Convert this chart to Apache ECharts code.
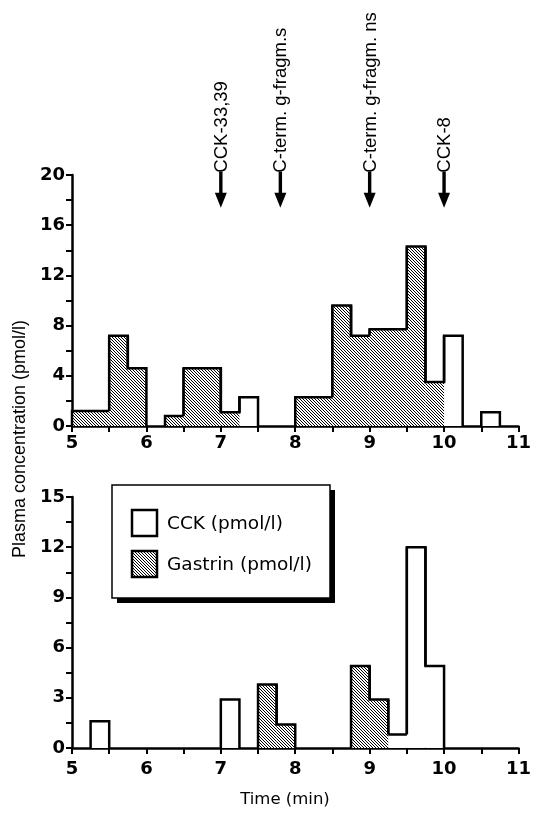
<!DOCTYPE html>
<html>
<head>
<meta charset="utf-8">
<script src="https://cdn.jsdelivr.net/npm/echarts@6/dist/echarts.min.js"></script>
<style>
html,body{margin:0;padding:0;background:#fff;}
#chart{width:534px;height:814px;}
</style>
</head>
<body>
<div id="chart"></div>
<script>
// ---- data (time in min, values in pmol/l; 0.25-min sampling bins) ----
const xTickLabels = [5, 6, 7, 8, 9, 10, 11];
const topYTickLabels = [0, 4, 8, 12, 16, 20];
const botYTickLabels = [0, 3, 6, 9, 12, 15];

const topCckFrom = [7.25, 10.0, 10.5];
const topCckTo   = [7.5, 10.25, 10.75];
const topCckVal  = [2.3, 7.2, 1.1];

const topGasFrom = [5.0, 5.5, 5.75, 6.25, 6.5, 7.0, 8.0, 8.5, 8.75, 9.0, 9.5, 9.75];
const topGasTo   = [5.5, 5.75, 6.0, 6.5, 7.0, 7.25, 8.5, 8.75, 9.0, 9.5, 9.75, 10.0];
const topGasVal  = [1.2, 7.2, 4.6, 0.8, 4.6, 1.1, 2.3, 9.6, 7.2, 7.7, 14.3, 3.5];

const botCckFrom = [5.25, 7.0, 9.25, 9.5, 9.75];
const botCckTo   = [5.5, 7.25, 9.5, 9.75, 10.0];
const botCckVal  = [1.6, 2.9, 0.8, 12.0, 4.9];

const botGasFrom = [7.5, 7.75, 8.75, 9.0];
const botGasTo   = [7.75, 8.0, 9.0, 9.25];
const botGasVal  = [3.8, 1.4, 4.9, 2.9];

const arrowTimes  = [7.0, 7.8, 9.0, 10.0];
const arrowLabels = ['CCK-33,39', 'C-term. g-fragm.s', 'C-term. g-fragm. ns', 'CCK-8'];

const legendLabels = ['CCK (pmol/l)', 'Gastrin (pmol/l)'];
const yTitle = 'Plasma concentration (pmol/l)';
const xTitle = 'Time (min)';

// ---- helpers ----
function makeHatch() {
  const c = document.createElement('canvas');
  c.width = 3; c.height = 3;
  const g = c.getContext('2d');
  g.fillStyle = '#ffffff'; g.fillRect(0, 0, 3, 3);
  g.fillStyle = '#000000';
  for (let i = 0; i < 3; i++) g.fillRect(i, i, 1, 1);
  return c;
}
const hatch = { image: makeHatch(), repeat: 'repeat' };

function buildItems(from, to, val, allFrom, allTo, allVal) {
  return from.map((f, i) => {
    let ln = 0, rn = 0;
    for (let k = 0; k < allFrom.length; k++) {
      if (Math.abs(allTo[k] - f) < 1e-9) ln = allVal[k];
      if (Math.abs(allFrom[k] - to[i]) < 1e-9) rn = allVal[k];
    }
    return [f, to[i], val[i], ln, rn];
  });
}
const topAllFrom = topCckFrom.concat(topGasFrom), topAllTo = topCckTo.concat(topGasTo), topAllVal = topCckVal.concat(topGasVal);
const botAllFrom = botCckFrom.concat(botGasFrom), botAllTo = botCckTo.concat(botGasTo), botAllVal = botCckVal.concat(botGasVal);

function histSeries(name, gi, items, fill) {
  return {
    name: name, type: 'custom', xAxisIndex: gi, yAxisIndex: gi,
    data: items, encode: { x: [0, 1], y: 2 }, z: 3,
    renderItem: function (params, api) {
      const p0 = api.coord([api.value(0), 0]);
      const pT = api.coord([api.value(1), api.value(2)]);
      const pl = api.coord([api.value(0), api.value(3)]);
      const pr = api.coord([api.value(1), api.value(4)]);
      return {
        type: 'group',
        children: [
          { type: 'rect', shape: { x: p0[0], y: pT[1], width: pT[0] - p0[0], height: p0[1] - pT[1] },
            style: { fill: fill, stroke: null } },
          { type: 'polyline', shape: { points: [[p0[0], pl[1]], [p0[0], pT[1]], [pT[0], pT[1]], [pT[0], pr[1]]] },
            style: { fill: null, stroke: '#000', lineWidth: 2.5, lineJoin: 'miter' } }
        ]
      };
    }
  };
}

const LBL_FONT = '"DejaVu Sans", sans-serif';
function xAxisCfg(gi, margin) {
  return {
    type: 'value', gridIndex: gi, min: 5, max: 11, interval: 0.5,
    axisLine: { show: true, onZero: false, lineStyle: { color: '#000', width: 2.5 } },
    axisTick: { show: true, length: 6, lineStyle: { color: '#000', width: 2 } },
    splitLine: { show: false },
    axisLabel: {
      margin: margin, color: '#000', fontFamily: LBL_FONT, fontWeight: 'bold', fontSize: 18,
      showMinLabel: true, showMaxLabel: true,
      formatter: v => (xTickLabels.indexOf(v) >= 0 ? String(v) : '')
    }
  };
}
function yAxisCfg(gi, max, interval, labels) {
  return {
    type: 'value', gridIndex: gi, min: 0, max: max, interval: interval,
    axisLine: { show: true, lineStyle: { color: '#000', width: 2.5 } },
    axisTick: { show: true, length: 6, lineStyle: { color: '#000', width: 2 } },
    splitLine: { show: false },
    axisLabel: {
      margin: 7, color: '#000', fontFamily: LBL_FONT, fontWeight: 'bold', fontSize: 18,
      showMinLabel: true, showMaxLabel: true,
      formatter: v => (labels.indexOf(v) >= 0 ? String(v) : '')
    }
  };
}

const chart = echarts.init(document.getElementById('chart'), null, { renderer: 'canvas' });
chart.setOption({
  backgroundColor: '#fff',
  animation: false,
  grid: [
    { left: 72, right: 14, top: 175, height: 251 },
    { left: 72, right: 14, top: 497, height: 251 }
  ],
  xAxis: [xAxisCfg(0, 8), xAxisCfg(1, 12)],
  yAxis: [yAxisCfg(0, 20, 2, topYTickLabels), yAxisCfg(1, 15, 1.5, botYTickLabels)],
  series: [
    histSeries('CCK (pmol/l)', 0, buildItems(topCckFrom, topCckTo, topCckVal, topAllFrom, topAllTo, topAllVal), '#fff'),
    histSeries('Gastrin (pmol/l)', 0, buildItems(topGasFrom, topGasTo, topGasVal, topAllFrom, topAllTo, topAllVal), hatch),
    histSeries('CCK (pmol/l)', 1, buildItems(botCckFrom, botCckTo, botCckVal, botAllFrom, botAllTo, botAllVal), '#fff'),
    histSeries('Gastrin (pmol/l)', 1, buildItems(botGasFrom, botGasTo, botGasVal, botAllFrom, botAllTo, botAllVal), hatch)
  ]
});

// ---- annotations (positioned through the chart's own scales) ----
const g = [];
arrowTimes.forEach((t, i) => {
  const x = chart.convertToPixel({ gridIndex: 0 }, [t, 0])[0];
  const tipY = chart.convertToPixel({ gridIndex: 0 }, [t, 17.4])[1];
  const shaftTop = tipY - 36;
  g.push({ type: 'rect', shape: { x: x - 1.7, y: shaftTop, width: 3.4, height: 24 }, style: { fill: '#000' }, z: 10 });
  g.push({ type: 'polygon', shape: { points: [[x - 6, tipY - 15], [x + 6, tipY - 15], [x, tipY]] }, style: { fill: '#000' }, z: 10 });
  g.push({ type: 'text', x: x + 1, y: shaftTop + 1, rotation: Math.PI / 2, z: 10,
    style: { text: arrowLabels[i], font: '18.5px "Liberation Sans", Arial, sans-serif', fill: '#000', align: 'left', verticalAlign: 'middle' } });
});

// legend box with offset shadow
const lx = 112, ly = 485, lw = 218, lh = 113;
g.push({ type: 'rect', shape: { x: lx + 5, y: ly + 5, width: lw, height: lh }, style: { fill: '#000' }, z: 20 });
g.push({ type: 'rect', shape: { x: lx, y: ly, width: lw, height: lh }, style: { fill: '#fff', stroke: '#000', lineWidth: 1.5 }, z: 21 });
g.push({ type: 'rect', shape: { x: 132, y: 510, width: 25, height: 26 }, style: { fill: '#fff', stroke: '#000', lineWidth: 2.5 }, z: 22 });
g.push({ type: 'rect', shape: { x: 132, y: 551, width: 25, height: 26 }, style: { fill: hatch, stroke: '#000', lineWidth: 2.5 }, z: 22 });
g.push({ type: 'text', x: 167, y: 524, z: 22, style: { text: legendLabels[0], font: '18.5px "DejaVu Sans", sans-serif', fill: '#000', align: 'left', verticalAlign: 'middle' } });
g.push({ type: 'text', x: 167, y: 565, z: 22, style: { text: legendLabels[1], font: '18.5px "DejaVu Sans", sans-serif', fill: '#000', align: 'left', verticalAlign: 'middle' } });

// axis titles
g.push({ type: 'text', x: 20, y: 439, rotation: Math.PI / 2, z: 5,
  style: { text: yTitle, font: '18px "Liberation Sans", Arial, sans-serif', fill: '#000', align: 'center', verticalAlign: 'middle' } });
g.push({ type: 'text', x: 285, y: 800, z: 5,
  style: { text: xTitle, font: '16.5px "DejaVu Sans", sans-serif', fill: '#000', align: 'center', verticalAlign: 'middle' } });

chart.setOption({ graphic: g });
</script>
</body>
</html>
